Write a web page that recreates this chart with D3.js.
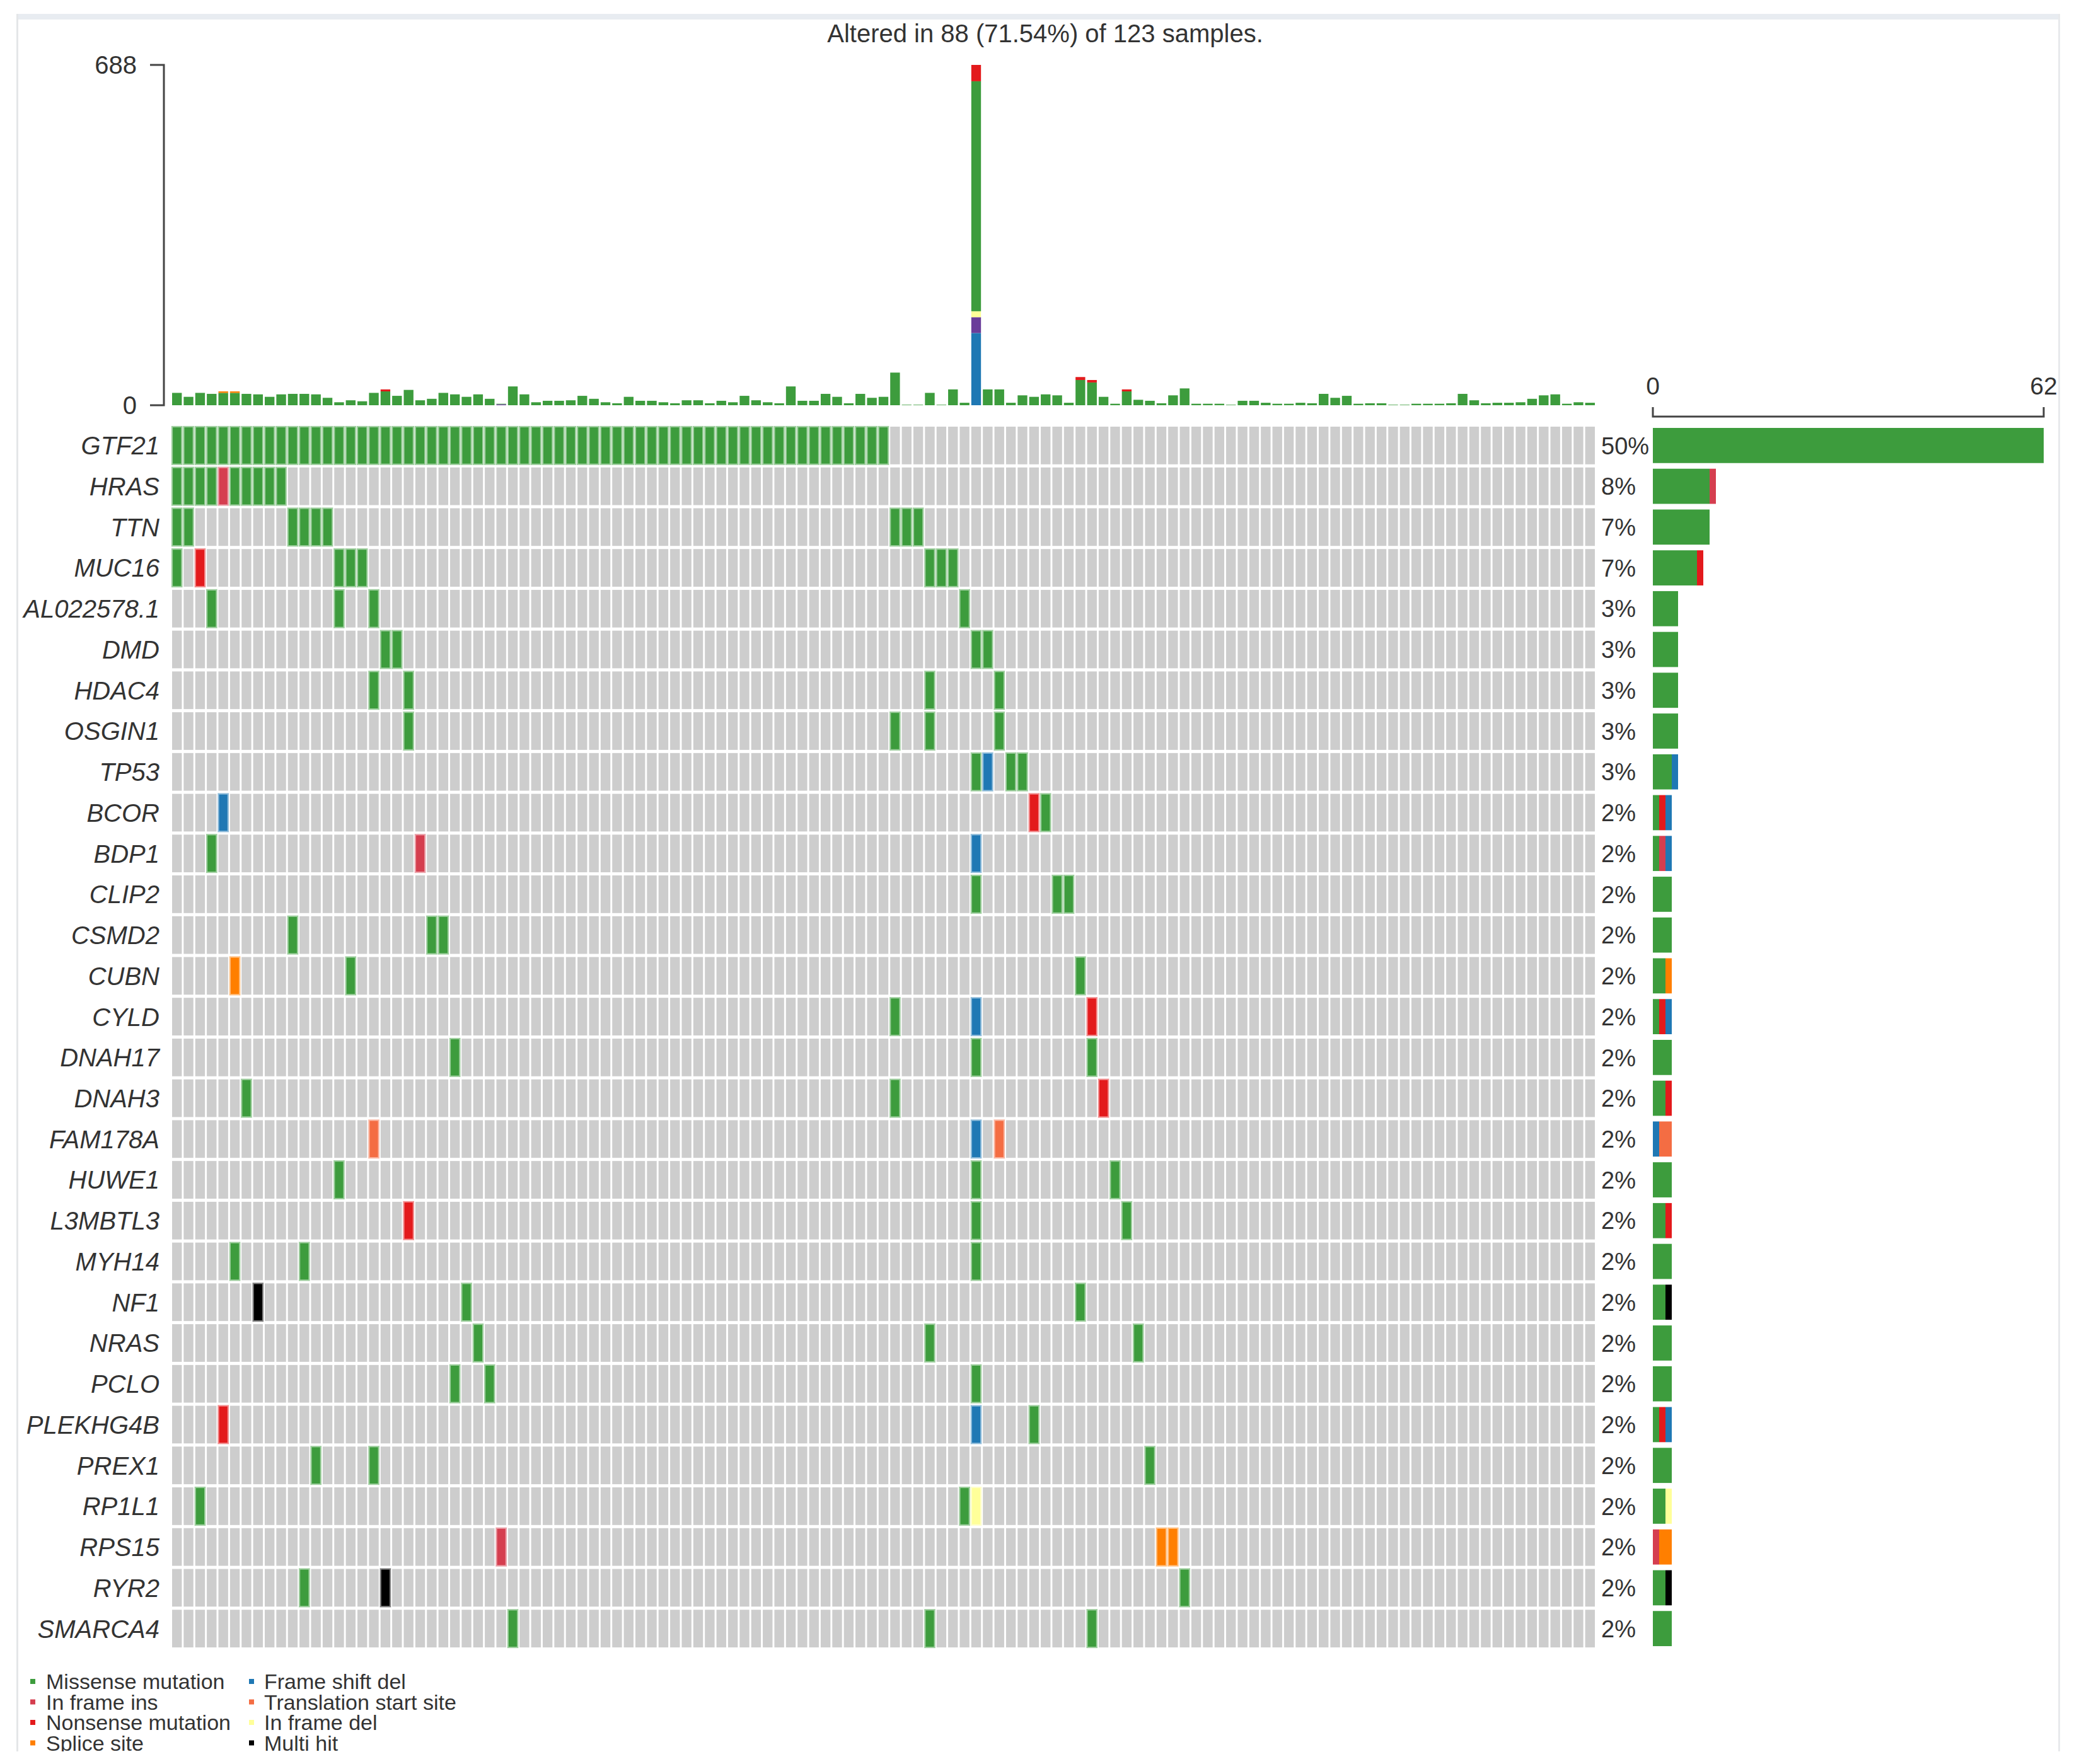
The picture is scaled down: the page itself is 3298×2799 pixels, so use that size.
<!DOCTYPE html>
<html><head><meta charset="utf-8">
<script src="https://cdn.jsdelivr.net/npm/d3@7"></script>
<style>html,body{margin:0;padding:0;background:#fff;} svg{display:block;}</style>
</head><body>
<svg id="chart" width="3298" height="2799"></svg>
<script>
// ---------------- DATA ----------------
const title = "Altered in 88 (71.54%) of 123 samples.";
const nSamples = 123;
const genes = ["GTF21","HRAS","TTN","MUC16","AL022578.1","DMD","HDAC4","OSGIN1","TP53","BCOR",
  "BDP1","CLIP2","CSMD2","CUBN","CYLD","DNAH17","DNAH3","FAM178A","HUWE1","L3MBTL3",
  "MYH14","NF1","NRAS","PCLO","PLEKHG4B","PREX1","RP1L1","RPS15","RYR2","SMARCA4"];

// runs of altered cells: [gene, firstSample, lastSample, variant type code]
const runs = [
  ["GTF21",0,61,"M"],
  ["HRAS",0,3,"M"],["HRAS",4,4,"I"],["HRAS",5,9,"M"],
  ["TTN",0,1,"M"],["TTN",10,13,"M"],["TTN",62,64,"M"],
  ["MUC16",0,0,"M"],["MUC16",2,2,"N"],["MUC16",14,16,"M"],["MUC16",65,67,"M"],
  ["AL022578.1",3,3,"M"],["AL022578.1",14,14,"M"],["AL022578.1",17,17,"M"],["AL022578.1",68,68,"M"],
  ["DMD",18,19,"M"],["DMD",69,70,"M"],
  ["HDAC4",17,17,"M"],["HDAC4",20,20,"M"],["HDAC4",65,65,"M"],["HDAC4",71,71,"M"],
  ["OSGIN1",20,20,"M"],["OSGIN1",62,62,"M"],["OSGIN1",65,65,"M"],["OSGIN1",71,71,"M"],
  ["TP53",69,69,"M"],["TP53",70,70,"F"],["TP53",72,73,"M"],
  ["BCOR",4,4,"F"],["BCOR",74,74,"N"],["BCOR",75,75,"M"],
  ["BDP1",3,3,"M"],["BDP1",21,21,"I"],["BDP1",69,69,"F"],
  ["CLIP2",69,69,"M"],["CLIP2",76,77,"M"],
  ["CSMD2",10,10,"M"],["CSMD2",22,23,"M"],
  ["CUBN",5,5,"S"],["CUBN",15,15,"M"],["CUBN",78,78,"M"],
  ["CYLD",62,62,"M"],["CYLD",69,69,"F"],["CYLD",79,79,"N"],
  ["DNAH17",24,24,"M"],["DNAH17",69,69,"M"],["DNAH17",79,79,"M"],
  ["DNAH3",6,6,"M"],["DNAH3",62,62,"M"],["DNAH3",80,80,"N"],
  ["FAM178A",17,17,"T"],["FAM178A",69,69,"F"],["FAM178A",71,71,"T"],
  ["HUWE1",14,14,"M"],["HUWE1",69,69,"M"],["HUWE1",81,81,"M"],
  ["L3MBTL3",20,20,"N"],["L3MBTL3",69,69,"M"],["L3MBTL3",82,82,"M"],
  ["MYH14",5,5,"M"],["MYH14",11,11,"M"],["MYH14",69,69,"M"],
  ["NF1",7,7,"H"],["NF1",25,25,"M"],["NF1",78,78,"M"],
  ["NRAS",26,26,"M"],["NRAS",65,65,"M"],["NRAS",83,83,"M"],
  ["PCLO",24,24,"M"],["PCLO",27,27,"M"],["PCLO",69,69,"M"],
  ["PLEKHG4B",4,4,"N"],["PLEKHG4B",69,69,"F"],["PLEKHG4B",74,74,"M"],
  ["PREX1",12,12,"M"],["PREX1",17,17,"M"],["PREX1",84,84,"M"],
  ["RP1L1",2,2,"M"],["RP1L1",68,68,"M"],["RP1L1",69,69,"D"],
  ["RPS15",28,28,"I"],["RPS15",85,86,"S"],
  ["RYR2",11,11,"M"],["RYR2",18,18,"H"],["RYR2",87,87,"M"],
  ["SMARCA4",29,29,"M"],["SMARCA4",65,65,"M"],["SMARCA4",79,79,"M"]
];

// variant types
const typeCodes  = ["M","I","N","S","F","T","D","H","P"];
const typeLabels = ["Missense mutation","In frame ins","Nonsense mutation","Splice site",
                    "Frame shift del","Translation start site","In frame del","Multi hit","Frame shift ins"];
const typeColors = ["#3d9c3d","#D53E4F","#E31A1C","#FF7F00","#1F78B4","#F46D43","#FFFF99","#000000","#6A3D9A"];
const legendCodes = ["M","I","N","S","F","T","D","H"];

// mutations per sample (top bar plot)
const tmbMissense = [25,17,25,23,25,25,23,22,17,22,
  23,23,22,15,6,10,8,25,28,19,
  31,10,13,25,22,17,22,13,1,38,
  22,6,9,9,10,19,13,6,4,17,
  9,9,6,4,10,10,4,9,6,19,
  10,6,4,38,9,9,23,17,4,23,
  15,17,66,1,1,25,1,32,5,465,
  32,32,5,20,17,22,20,5,51,46,
  17,3,28,11,9,4,20,34,3,3,
  3,1,9,9,5,3,3,5,4,23,
  15,19,3,4,4,1,1,3,3,3,
  4,23,10,4,5,5,6,13,20,22,
  3,6,5];
const tmbExtraSample = [4,5,18,28,69,69,69,69,78,79,82];
const tmbExtraType   = ["S","S","N","P","F","P","D","N","N","N","N"];
const tmbExtraCount  = [3,3,4,2,146,32,12,33,6,5,4];
const tmbStackOrder = ["F","P","D","M","N","I","S","T","H"];
const tmbTicks = [0, 688];
const freqTicks = [0, 62];
const barStackOrder = ["M","I","N","S","F","T","D","H","P"];

// ---------------- DRAW ----------------
const svg = d3.select("#chart");
const FONT = "'Liberation Sans', Arial, Helvetica, sans-serif";
const txt = "#333";
const color = d3.scaleOrdinal().domain(typeCodes).range(typeColors);

// frame
svg.append("rect").attr("x",0).attr("y",0).attr("width",3298).attr("height",2799).attr("fill","#fff");
svg.append("rect").attr("x",26).attr("y",22).attr("width",3242).attr("height",9).attr("fill","#e8ecf1");
svg.append("rect").attr("x",26).attr("y",22).attr("width",3).attr("height",2757).attr("fill","#e4e6e8");
svg.append("rect").attr("x",3265).attr("y",22).attr("width",3).attr("height",2757).attr("fill","#e8eaec");

// title
svg.append("text").attr("x",1658).attr("y",67).attr("text-anchor","middle")
  .attr("font-family",FONT).attr("font-size",40).attr("fill",txt).text(title);

// scales
const x = d3.scaleBand().domain(d3.range(nSamples)).range([273,2530]).paddingInner(0.163);
const y = d3.scaleBand().domain(genes).range([677,2614]).paddingInner(0.077);
const yT = d3.scaleLinear().domain([0,688]).range([643,103]);
const xF = d3.scaleLinear().domain([0,62]).range([2622,3242]);

// build cell map
const cells = [];
runs.forEach(([g,a,b,t]) => { for (let s=a; s<=b; s++) cells.push({gene:g, sample:s, type:t}); });

// background grid
const grid = svg.append("g");
genes.forEach(g => {
  grid.selectAll(null).data(d3.range(nSamples)).enter().append("rect")
    .attr("x", s => x(s)).attr("y", y(g)).attr("width", x.bandwidth()).attr("height", y.bandwidth())
    .attr("fill","#cdcdcd");
});
// altered cells
grid.selectAll(".cell").data(cells).enter().append("rect")
  .attr("x", d => x(d.sample)).attr("y", d => y(d.gene))
  .attr("width", x.bandwidth()).attr("height", y.bandwidth())
  .attr("fill", d => color(d.type))
  .attr("stroke", d => d3.interpolateRgb(color(d.type), "#fff")(0.5))
  .attr("stroke-width", 2.2);

// gene labels
svg.append("g").selectAll("text").data(genes).enter().append("text")
  .attr("x",253).attr("y", g => y(g)+y.bandwidth()/2).attr("dy","0.36em")
  .attr("text-anchor","end").attr("font-family",FONT).attr("font-style","italic")
  .attr("font-size",40).attr("fill",txt).text(g => g);

// per-gene counts
const geneCounts = genes.map(g => {
  const byType = {};
  cells.filter(c => c.gene===g).forEach(c => byType[c.type] = (byType[c.type]||0)+1);
  const total = d3.sum(Object.values(byType));
  return {gene:g, byType, total};
});

// percentages
svg.append("g").selectAll("text").data(geneCounts).enter().append("text")
  .attr("x",2540).attr("y", d => y(d.gene)+y.bandwidth()/2).attr("dy","0.36em")
  .attr("font-family",FONT).attr("font-size",38).attr("fill",txt)
  .text(d => Math.round(100*d.total/nSamples) + "%");

// right bar chart
const rb = svg.append("g");
geneCounts.forEach(d => {
  let acc = 0;
  barStackOrder.forEach(t => {
    const n = d.byType[t] || 0;
    if (!n) return;
    rb.append("rect").attr("x", xF(acc)).attr("width", xF(acc+n)-xF(acc))
      .attr("y", y(d.gene)+2).attr("height", y.bandwidth()-4).attr("fill", color(t));
    acc += n;
  });
});
// right axis
const ra = svg.append("g").attr("stroke","#444").attr("stroke-width",3).attr("fill","none");
ra.append("path").attr("d", `M${xF(freqTicks[0])},646V661H${xF(freqTicks[1])}V646`);
svg.append("g").selectAll("text").data(freqTicks).enter().append("text")
  .attr("x", d => xF(d)).attr("y",626).attr("text-anchor","middle")
  .attr("font-family",FONT).attr("font-size",39).attr("fill",txt).text(d => d);

// top bar chart (mutations per sample)
const extras = tmbExtraSample.map((s,i) => ({sample:s, type:tmbExtraType[i], n:tmbExtraCount[i]}));
const tb = svg.append("g");
d3.range(nSamples).forEach(s => {
  const counts = {M: tmbMissense[s]};
  extras.filter(e => e.sample===s).forEach(e => counts[e.type] = (counts[e.type]||0)+e.n);
  let acc = 0;
  tmbStackOrder.forEach(t => {
    const n = counts[t] || 0;
    if (!n) return;
    tb.append("rect").attr("x", x(s)).attr("width", x.bandwidth())
      .attr("y", yT(acc+n)).attr("height", yT(acc)-yT(acc+n)).attr("fill", color(t));
    acc += n;
  });
});
// top axis
svg.append("path").attr("d", `M238,${yT(tmbTicks[1])}H260V${yT(tmbTicks[0])}H238`)
  .attr("stroke","#444").attr("stroke-width",3).attr("fill","none");
svg.append("g").selectAll("text").data(tmbTicks).enter().append("text")
  .attr("x",217).attr("y", d => yT(d)).attr("dy","0.36em").attr("text-anchor","end")
  .attr("font-family",FONT).attr("font-size",40).attr("fill",txt).text(d => d);

// legend (clipped at picture bottom)
svg.append("clipPath").attr("id","lgclip").append("rect")
  .attr("x",0).attr("y",2620).attr("width",1000).attr("height",159);
const lg = svg.append("g").attr("clip-path","url(#lgclip)");
legendCodes.forEach((c,i) => {
  const col = Math.floor(i/4), row = i%4;
  const cx = col ? 399 : 52, tx = col ? 419 : 73;
  const cy = 2668 + row*32.5;
  lg.append("rect").attr("x",cx-4).attr("y",cy-4).attr("width",8).attr("height",8).attr("fill",color(c));
  lg.append("text").attr("x",tx).attr("y",cy).attr("dy","0.36em")
    .attr("font-family",FONT).attr("font-size",34).attr("fill",txt)
    .text(typeLabels[typeCodes.indexOf(c)]);
});
</script>
</body></html>
